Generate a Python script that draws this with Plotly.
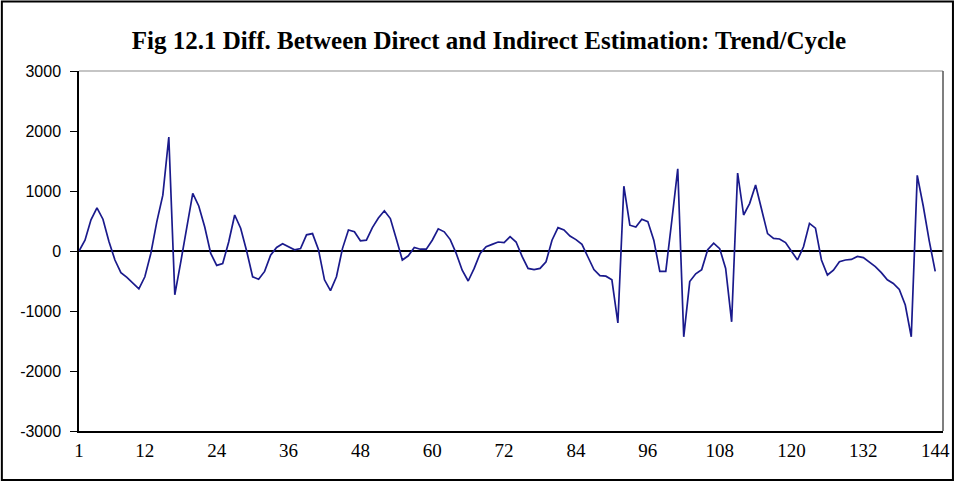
import plotly.graph_objects as go

# Period index 1..144
periods = list(range(1, 145))

# Direct minus indirect trend/cycle estimate
diff_values = [
    0, 180, 520, 720, 530, 160, -150, -360, -440, -540,
    -630, -430, -40, 490, 930, 1900, -730, -180, 400, 960,
    750, 400, -40, -240, -210, 150, 600, 380, 0, -430,
    -470, -340, -70, 60, 120, 70, 20, 40, 270, 290,
    20, -480, -660, -430, 40, 350, 320, 170, 180, 390,
    550, 670, 540, 200, -150, -80, 60, 30, 30, 180,
    370, 320, 190, -40, -320, -500, -290, -40, 70, 110,
    150, 140, 240, 150, -90, -290, -310, -290, -180, 180,
    390, 350, 250, 190, 110, -100, -310, -410, -420, -480,
    -1200, 1080, 430, 400, 530, 490, 180, -340, -340, 500,
    1370, -1430, -510, -380, -310, 20, 130, 40, -290, -1180,
    1300, 600, 790, 1100, 710, 290, 210, 200, 140, -10,
    -150, 70, 460, 380, -150, -400, -320, -180, -150, -140,
    -90, -110, -190, -260, -360, -480, -540, -640, -900, -1430,
    1260, 750, 170, -340,
]

x_ticks = [1, 12, 24, 36, 48, 60, 72, 84, 96, 108, 120, 132, 144]
y_ticks = [-3000, -2000, -1000, 0, 1000, 2000, 3000]

title_text = "Fig 12.1 Diff. Between Direct and Indirect Estimation: Trend/Cycle"

fig = go.Figure()
fig.add_trace(go.Scatter(
    x=periods, y=diff_values, mode="lines",
    line=dict(color="#1a1a8c", width=1.7),
    showlegend=False, hoverinfo="x+y",
))

W, H = 962, 482
L, R, T, B = 79, 15, 71, 51
pw, ph = W - L - R, H - T - B

def px_x(p):
    return (p - L) / pw

def px_y(p):
    return (H - B - p) / ph

fig.update_layout(
    width=W, height=H,
    margin=dict(l=L, r=R, t=T, b=B),
    paper_bgcolor="white", plot_bgcolor="white",
    title=dict(
        text=title_text, x=489 / W, xanchor="center", y=1 - 40 / H, yanchor="middle",
        font=dict(family="Liberation Serif", size=25, color="black", weight="bold"),
    ),
    xaxis=dict(
        range=[1, 145.3], tickmode="array", tickvals=x_ticks,
        ticktext=[str(t) for t in x_ticks], showgrid=False, zeroline=False,
        showline=True, linecolor="black", linewidth=1.5, ticks="",
        tickfont=dict(family="Liberation Serif", size=19, color="black"),
        ticklabelstandoff=1,
    ),
    yaxis=dict(
        range=[-3000, 3000], tickmode="array", tickvals=y_ticks,
        ticktext=[str(t) for t in y_ticks], showgrid=False,
        zeroline=True, zerolinecolor="black", zerolinewidth=1.5,
        showline=True, linecolor="black", linewidth=1.5,
        ticks="outside", ticklen=7, tickcolor="black", tickwidth=1.2,
        tickfont=dict(family="Liberation Sans", size=16, color="black"),
        ticklabelstandoff=6,
    ),
    shapes=[
        # top and right edges of the plotting area
        dict(type="line", xref="paper", yref="paper", x0=0, x1=1, y0=1, y1=1,
             line=dict(color="#8c8c8c", width=1.2)),
        dict(type="line", xref="paper", yref="paper", x0=1, x1=1, y0=0, y1=1,
             line=dict(color="#555555", width=1.5)),
        # outer chart frame
        dict(type="rect", xref="paper", yref="paper",
             x0=px_x(1.5), x1=px_x(957), y0=px_y(1.5), y1=px_y(480),
             line=dict(color="black", width=2), fillcolor="rgba(0,0,0,0)",
             layer="above"),
    ],
)

fig.write_html("out.html")
